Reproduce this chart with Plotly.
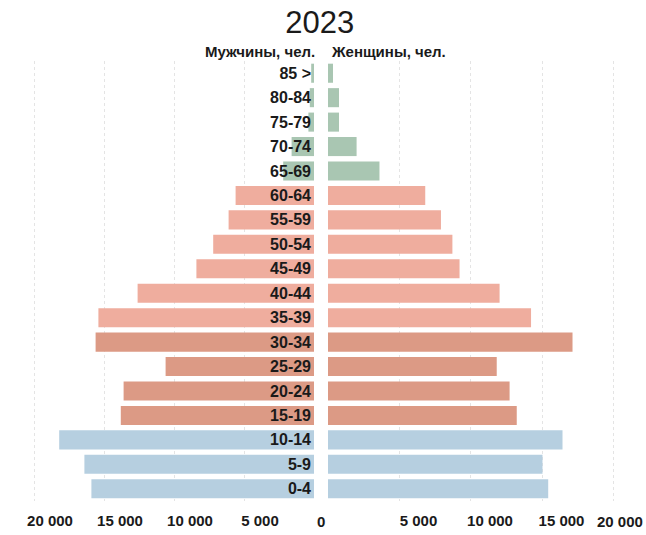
import plotly.graph_objects as go

# age groups, top to bottom
ages = ["85 >", "80-84", "75-79", "70-74", "65-69", "60-64", "55-59", "50-54",
        "45-49", "40-44", "35-39", "30-34", "25-29", "20-24", "15-19", "10-14",
        "5-9", "0-4"]

men = [200, 300, 400, 1600, 2200, 5600, 6100, 7200,
       8400, 12600, 15400, 15600, 10600, 13600, 13800, 18200,
       16400, 15900]
women = [350, 770, 770, 2000, 3600, 6800, 7900, 8700,
         9200, 12000, 14200, 17100, 11800, 12700, 13200, 16400,
         15000, 15400]
groups = ["old"] * 5 + ["mid"] * 6 + ["young"] * 4 + ["kids"] * 3

ticks = [5000, 10000, 15000, 20000]
tick_text = ["5 000", "10 000", "15 000", "20 000"]

palette = {"old": "#a9c6b2", "mid": "#efad9e", "young": "#dc9a85", "kids": "#b6cfe0"}
colors = [palette[g] for g in groups]

W, H = 646, 535
T, B = 61, 34
fnt = "Liberation Sans, Arial, sans-serif"

fig = go.Figure()
fig.add_trace(go.Bar(x=men, y=ages, orientation="h", marker=dict(color=colors, line_width=0),
                     xaxis="x", yaxis="y", showlegend=False, hoverinfo="x+y"))
fig.add_trace(go.Bar(x=women, y=ages, orientation="h", marker=dict(color=colors, line_width=0),
                     xaxis="x2", yaxis="y2", showlegend=False, hoverinfo="x+y"))

grid = dict(showgrid=True, gridcolor="#e4e4e4", griddash="dot", gridwidth=1,
            zeroline=False, showline=False, ticks="",
            tickfont=dict(family=fnt, size=15, color="#1a1a1a", weight="bold"),
            ticklabelstandoff=9, tickvals=ticks, ticktext=tick_text, fixedrange=True)

fig.update_layout(
    width=W, height=H,
    margin=dict(l=0, r=0, t=T, b=B),
    paper_bgcolor="white", plot_bgcolor="white",
    bargap=0.22,
    title=dict(text="2023", x=0.495, xanchor="center", y=1 - 22 / H, yanchor="middle",
               font=dict(family=fnt, size=31, color="#1a1a1a")),
    xaxis=dict(domain=[20 / W, 314 / W], range=[21000, 0], ticklabelshift=-16, **grid),
    xaxis2=dict(domain=[328 / W, 629 / W], range=[0, 21050], ticklabelshift=19, **grid),
    yaxis=dict(anchor="x", side="right", ticklabelposition="inside", ticks="",
               autorange="reversed", showgrid=False, zeroline=False, showline=False,
               ticklabelstandoff=0,
               tickfont=dict(family=fnt, size=16, color="#1a1a1a", weight="bold")),
    yaxis2=dict(anchor="x2", autorange="reversed", showticklabels=False,
                showgrid=False, zeroline=False, showline=False, matches="y"),
)

ph = H - T - B


def py(y):
    # pixel row from the top -> paper coordinate
    return (H - B - y) / ph


fig.add_annotation(text="Мужчины, чел.", x=317 / W, xref="paper", xanchor="right",
                   y=py(51), yref="paper", yanchor="middle", showarrow=False,
                   font=dict(family=fnt, size=15, color="#1a1a1a", weight="bold"))
fig.add_annotation(text="Женщины, чел.", x=329 / W, xref="paper", xanchor="left",
                   y=py(51), yref="paper", yanchor="middle", showarrow=False,
                   font=dict(family=fnt, size=15, color="#1a1a1a", weight="bold"))
fig.add_annotation(text="0", x=321 / W, xref="paper", xanchor="center",
                   y=py(521), yref="paper", yanchor="middle", showarrow=False,
                   font=dict(family=fnt, size=15, color="#1a1a1a", weight="bold"))
# last right tick label sits at the page edge; keep it fully inside
fig.add_annotation(text="20 000", x=645 / W, xref="paper", xanchor="right",
                   y=py(521), yref="paper", yanchor="middle", showarrow=False,
                   font=dict(family=fnt, size=15, color="#1a1a1a", weight="bold"))

fig.write_html("out.html", config={"displayModeBar": False},
               post_script="document.body.style.margin='0';")
